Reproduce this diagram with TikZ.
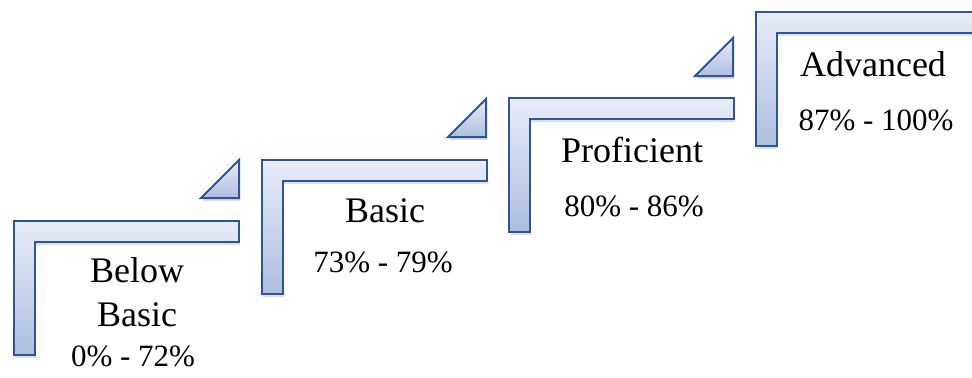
\documentclass[tikz,border=0pt]{standalone}
\usepackage{fontspec}
\setmainfont{Liberation Serif}
\usetikzlibrary{shadows}
\definecolor{stairline}{HTML}{2F5597}
\definecolor{stairtop}{HTML}{E8ECF7}
\definecolor{stairbottom}{HTML}{AEBDE0}

\begin{document}
\begin{tikzpicture}[x=0.5pt, y=-0.5pt,
        stair/.style={draw=stairline, line width=1pt, top color=stairtop, bottom color=stairbottom,
            drop shadow={shadow xshift=0.6pt, shadow yshift=-1.6pt, opacity=0.25}},
        level/.style={font=\fontsize{18}{21.6}\selectfont, inner sep=0pt, align=center},
        pct/.style={font=\fontsize{15.5}{18.6}\selectfont, inner sep=0pt}]
        \useasboundingbox (0,0) rectangle (972,377);

        % steps
        \draw[stair] (14,221) coordinate (s_1) -- ++(225,0) -- ++(0,21) -- ++(-204,0) -- ++(0,113) -- ++(-21,0) -- cycle;
        \draw[stair] (262,160) coordinate (s_2) -- ++(225,0) -- ++(0,21) -- ++(-204,0) -- ++(0,113) -- ++(-21,0) -- cycle;
        \draw[stair] (509,98) coordinate (s_3) -- ++(225,0) -- ++(0,21) -- ++(-204,0) -- ++(0,113) -- ++(-21,0) -- cycle;
        \draw[stair] (756,12) coordinate (s_4) -- ++(225,0) -- ++(0,21) -- ++(-204,0) -- ++(0,113) -- ++(-21,0) -- cycle;

        % small triangles between the steps
        \draw[stair] (239,160) coordinate (t_1) -- ++(0,38) -- ++(-38,0) -- cycle;
        \draw[stair] (486,99) coordinate (t_2) -- ++(0,38) -- ++(-38,0) -- cycle;
        \draw[stair] (733,38) coordinate (t_3) -- ++(0,38) -- ++(-38,0) -- cycle;

        % levels (base of a two-line node is its last line)
        \node[level, anchor=base] (below) at (137,326) {Below\\Basic};
        \node[pct, anchor=base] (below_p) at (133,366) {0\% - 72\%};

        \node[level, anchor=base] (basic) at (385,222) {Basic};
        \node[pct, anchor=base] (basic_p) at (383,272) {73\% - 79\%};

        \node[level, anchor=base] (prof) at (632,162) {Proficient};
        \node[pct, anchor=base] (prof_p) at (634,216) {80\% - 86\%};

        \node[level, anchor=base] (adv) at (873,76) {Advanced};
        \node[pct, anchor=base] (adv_p) at (876,130) {87\% - 100\%};
    \end{tikzpicture}
\end{document}
